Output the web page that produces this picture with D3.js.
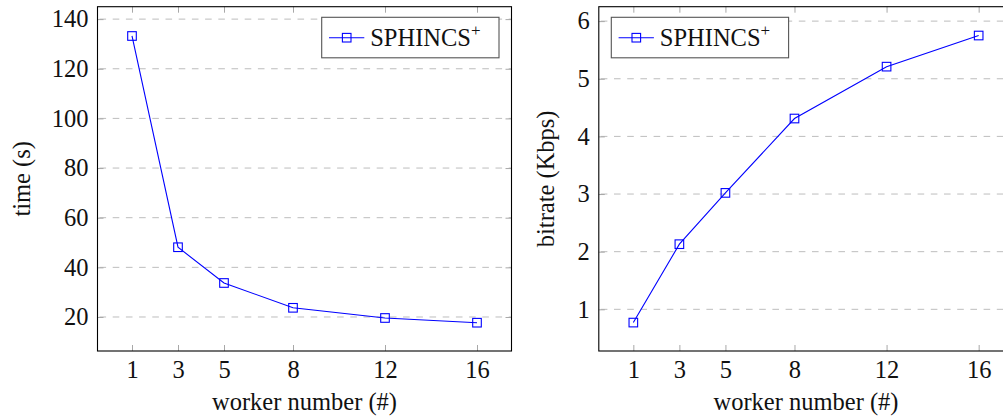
<!DOCTYPE html>
<html>
<head>
<meta charset="utf-8">
<script src="https://cdn.jsdelivr.net/npm/d3@7"></script>
<style>
  html, body { margin: 0; padding: 0; background: #fff; }
  svg { display: block; }
  svg text { font-family: "Liberation Serif", "Times New Roman", serif; }
</style>
</head>
<body>
<svg id="chart" width="1003" height="418"></svg>
<script>
// ---- data ----
const workers = [1, 3, 5, 8, 12, 16];
const timeSeconds = [133.2, 48.1, 33.7, 23.7, 19.6, 17.7];
const bitrateKbps = [0.77, 2.13, 3.02, 4.31, 5.21, 5.75];
const timeTicks = [20, 40, 60, 80, 100, 120, 140];
const bitrateTicks = [1, 2, 3, 4, 5, 6];
const seriesName = "SPHINCS";
const xLabel = "worker number (#)";
const yLabelLeft = "time (s)";
const yLabelRight = "bitrate (Kbps)";

const svg = d3.select("#chart");
const FS = 24.5;
const FONT = "Liberation Serif, Times New Roman, serif";
const BLUE = "#0000ff";

function panel(opts) {
  const g = svg.append("g");
  const x = d3.scaleLinear().domain([-0.5, 17.5]).range([opts.x0, opts.x1]);
  const y = d3.scaleLinear().domain(opts.yDomain).range([351, 6.7]);

  // grid
  g.append("g").selectAll("line").data(opts.yTicks).join("line")
    .attr("x1", opts.x0).attr("x2", opts.x1)
    .attr("y1", d => y(d)).attr("y2", d => y(d))
    .attr("stroke", "#bdbdbd").attr("stroke-width", 1)
    .attr("stroke-dasharray", "6.6,6.6").attr("stroke-dashoffset", -2);

  const fmt = d3.format("d");
  // axes (ticks inward, gray)
  const bottom = g.append("g").attr("transform", `translate(0,351)`)
    .call(d3.axisBottom(x).tickValues(workers).tickSize(-6).tickPadding(10).tickFormat(fmt));
  const top = g.append("g").attr("transform", `translate(0,6.7)`)
    .call(d3.axisTop(x).tickValues(workers).tickSize(-6).tickFormat(""));
  const left = g.append("g").attr("transform", `translate(${opts.x0},0)`)
    .call(d3.axisLeft(y).tickValues(opts.yTicks).tickSize(-6).tickPadding(9).tickFormat(fmt));
  const right = g.append("g").attr("transform", `translate(${opts.x1},0)`)
    .call(d3.axisRight(y).tickValues(opts.yTicks).tickSize(-6).tickFormat(""));
  [bottom, top, left, right].forEach(a => {
    a.attr("font-family", FONT).attr("font-size", FS);
    a.select(".domain").remove();
    a.selectAll(".tick line").attr("stroke", "#a8a8a8").attr("stroke-width", 1);
    a.selectAll(".tick text").attr("fill", "#111")
      .attr("font-family", FONT).attr("font-size", FS);
  });

  // frame
  g.append("rect")
    .attr("x", opts.x0).attr("y", 6.7)
    .attr("width", opts.x1 - opts.x0).attr("height", 351 - 6.7)
    .attr("fill", "none").attr("stroke", "#000").attr("stroke-width", 1.1);

  // series line
  const line = d3.line().x((d, i) => x(workers[i])).y(d => y(d));
  g.append("path").datum(opts.values)
    .attr("d", line).attr("fill", "none")
    .attr("stroke", BLUE).attr("stroke-width", 1.1);
  const ms = 8.6;
  g.append("g").selectAll("rect").data(opts.values).join("rect")
    .attr("x", (d, i) => x(workers[i]) - ms / 2)
    .attr("y", d => y(d) - ms / 2)
    .attr("width", ms).attr("height", ms)
    .attr("fill", "none").attr("stroke", BLUE).attr("stroke-width", 1.1);

  // axis labels
  g.append("text")
    .attr("x", (x(1) + x(16)) / 2).attr("y", 410)
    .attr("text-anchor", "middle").attr("font-family", FONT).attr("font-size", FS).attr("fill", "#111")
    .text(xLabel);
  g.append("text")
    .attr("transform", `translate(${opts.ylabelX},${(6.7 + 351) / 2}) rotate(-90)`)
    .attr("text-anchor", "middle").attr("font-family", FONT).attr("font-size", FS).attr("fill", "#111")
    .text(opts.yLabel);

  // legend
  const lg = g.append("g").attr("transform", `translate(${opts.legendX},17.3)`);
  lg.append("rect").attr("x", 0).attr("y", 0).attr("width", 177.3).attr("height", 40.5)
    .attr("fill", "#fff").attr("stroke", "#555").attr("stroke-width", 1.1);
  lg.append("line").attr("x1", 7.3).attr("x2", 42.6).attr("y1", 20.4).attr("y2", 20.4)
    .attr("stroke", BLUE).attr("stroke-width", 1.1);
  lg.append("rect").attr("x", 25 - ms / 2).attr("y", 20.4 - ms / 2)
    .attr("width", ms).attr("height", ms)
    .attr("fill", "none").attr("stroke", BLUE).attr("stroke-width", 1.1);
  const t = lg.append("text").attr("x", 48.5).attr("y", 28.5)
    .attr("font-family", FONT).attr("font-size", FS).attr("fill", "#111");
  t.append("tspan").text(seriesName);
  t.append("tspan").attr("dy", -9.5).attr("font-size", 17).text("+");
}

panel({
  x0: 97.5, x1: 511.5,
  yDomain: [6.3, 145],
  yTicks: timeTicks,
  values: timeSeconds,
  yLabel: yLabelLeft,
  ylabelX: 29.5,
  legendX: 321.7
});

panel({
  x0: 598.8, x1: 1013.2,
  yDomain: [0.277, 6.25],
  yTicks: bitrateTicks,
  values: bitrateKbps,
  yLabel: yLabelRight,
  ylabelX: 553.5,
  legendX: 611.3
});
</script>
</body>
</html>
